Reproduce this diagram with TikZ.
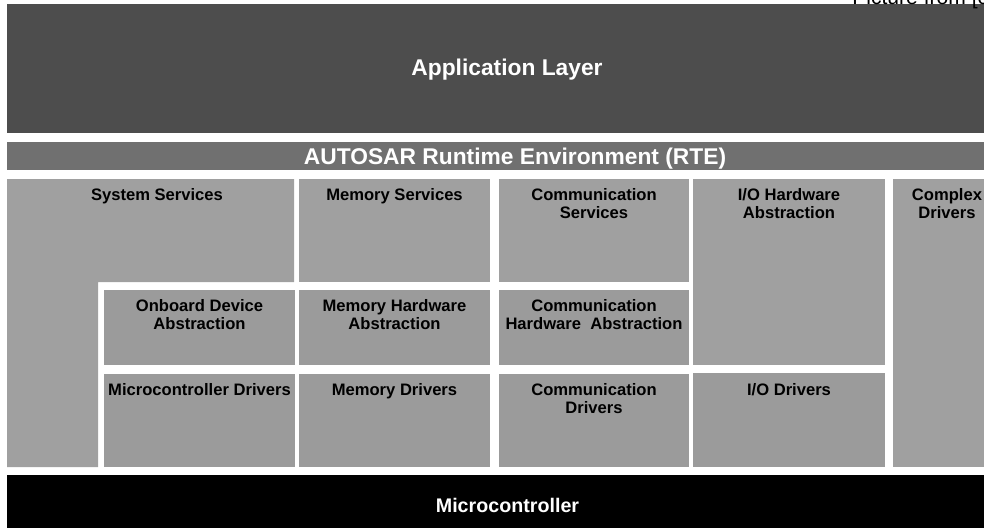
\documentclass[tikz,border=0pt]{standalone}
\usepackage{fontspec}
\setmainfont{Liberation Sans}
\definecolor{applgray}{HTML}{4D4D4D}
\definecolor{rtegray}{HTML}{707070}
\definecolor{bswgray}{HTML}{A0A0A0}
\definecolor{drvgray}{HTML}{9B9B9B}
\begin{document}
\begin{tikzpicture}
    [x=0.25mm, y=-0.25mm,
    bsw/.style={fill=bswgray},
    drv/.style={fill=drvgray},
    boxlabel/.style={anchor=north, inner sep=0pt, align=center,
        font=\fontsize{11.8}{12.8}\selectfont\bfseries},
    barlabel/.style={text=white, inner sep=0pt,
        font=\fontsize{16.2}{18}\selectfont\bfseries}
    ]
    \useasboundingbox (0,0) rectangle (984,528);
    \clip (0,0) rectangle (984,528);
    % layers
    \fill[applgray] (7,4) rectangle (984,133);
    \fill[rtegray] (7,142) rectangle (984,170);
    \fill[black] (7,475) rectangle (984,528);
    % basic software
    \fill[bsw] (7,179) -- (294,179) -- (294,282) -- (98,282) -- (98,467) -- (7,467) -- cycle;
    \fill[bsw] (299,179) rectangle (490,282);
    \fill[bsw] (499,179) rectangle (689,282);
    \fill[bsw] (693,179) rectangle (885,365);
    \fill[bsw] (893,179) rectangle (984,467);
    \fill[drv] (104,290) rectangle (295,365);
    \fill[drv] (299,290) rectangle (490,365);
    \fill[drv] (499,290) rectangle (689,365);
    \fill[drv] (104,374) rectangle (295,467);
    \fill[drv] (299,374) rectangle (490,467);
    \fill[drv] (499,374) rectangle (689,467);
    \fill[drv] (693,373) rectangle (885,467);
    % texts
    \node[barlabel] (appl) at (507,70) {Application Layer};
    \node[barlabel] (rte) at (515,158.5) {AUTOSAR Runtime Environment (RTE)};
    \node[barlabel, font=\fontsize{14}{16}\selectfont\bfseries] (mcu) at (507.5,505) {Microcontroller};
    \node[boxlabel] (sysserv) at (157,188.5) {System Services};
    \node[boxlabel] (memserv) at (394.5,188.5) {Memory Services};
    \node[boxlabel] (comserv) at (594,188.5) {Communication\\Services};
    \node[boxlabel] (iohwa) at (789,188.5) {I/O Hardware\\Abstraction};
    \node[boxlabel] (cdd) at (947,188.5) {Complex\\Drivers};
    \node[boxlabel] (ecual) at (199.5,299) {Onboard Device\\Abstraction};
    \node[boxlabel] (memhwa) at (394.5,299) {Memory Hardware\\Abstraction};
    \node[boxlabel] (comhwa) at (594,299) {Communication\\Hardware\ \ Abstraction};
    \node[boxlabel] (mcal) at (199.5,383) {Microcontroller Drivers};
    \node[boxlabel] (memdrv) at (394.5,383) {Memory Drivers};
    \node[boxlabel] (comdrv) at (594,383) {Communication\\Drivers};
    \node[boxlabel] (iodrv) at (789,383) {I/O Drivers};
    \node[anchor=base west, inner sep=0pt, font=\fontsize{15}{18}\selectfont] (source) at (852,4.5) {Picture from [c};
\end{tikzpicture}
\end{document}
